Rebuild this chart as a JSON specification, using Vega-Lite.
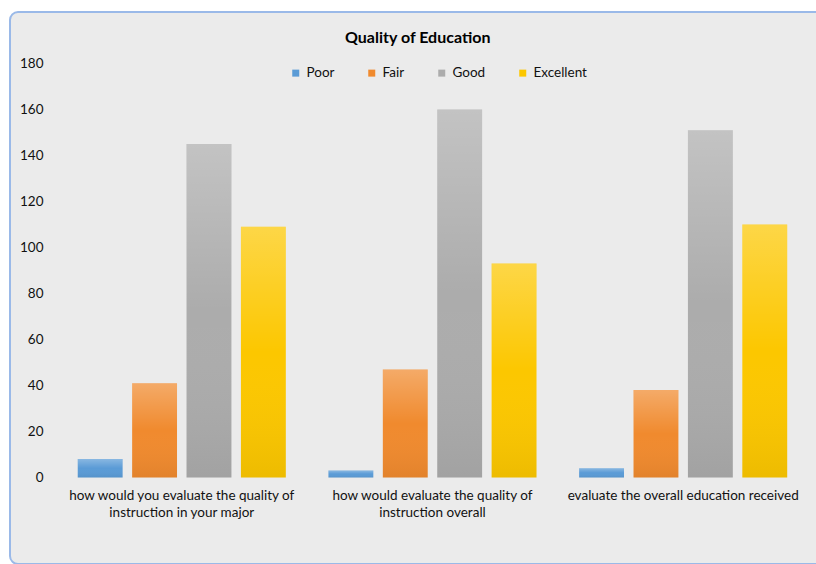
{
  "$schema": "https://vega.github.io/schema/vega-lite/v6.json",
  "autosize": "none",
  "width": 814,
  "height": 552,
  "padding": {"left": 10, "top": 12, "right": 0, "bottom": 0},
  "background": "#ffffff",
  "title": {
    "text": "Quality of Education",
    "anchor": "start",
    "frame": "group",
    "offset": -34,
    "dx": 335,
    "font": "Lato",
    "fontSize": 16,
    "fontWeight": "bold",
    "color": "#000000"
  },
  "data": {
    "values": [
      {"question": "how would you evaluate the quality of instruction in your major", "rating": "Poor", "count": 8},
      {"question": "how would you evaluate the quality of instruction in your major", "rating": "Fair", "count": 41},
      {"question": "how would you evaluate the quality of instruction in your major", "rating": "Good", "count": 145},
      {"question": "how would you evaluate the quality of instruction in your major", "rating": "Excellent", "count": 109},
      {"question": "how would evaluate the quality of instruction overall", "rating": "Poor", "count": 3},
      {"question": "how would evaluate the quality of instruction overall", "rating": "Fair", "count": 47},
      {"question": "how would evaluate the quality of instruction overall", "rating": "Good", "count": 160},
      {"question": "how would evaluate the quality of instruction overall", "rating": "Excellent", "count": 93},
      {"question": "evaluate the overall education received", "rating": "Poor", "count": 4},
      {"question": "evaluate the overall education received", "rating": "Fair", "count": 38},
      {"question": "evaluate the overall education received", "rating": "Good", "count": 151},
      {"question": "evaluate the overall education received", "rating": "Excellent", "count": 110}
    ]
  },
  "encoding": {
    "x": {
      "field": "question",
      "type": "nominal",
      "sort": null,
      "scale": {"paddingInner": 0.17, "paddingOuter": 0.2085, "align": 0.648},
      "axis": {
        "title": null,
        "orient": "bottom",
        "offset": -76,
        "domain": false,
        "ticks": false,
        "labelPadding": 0,
        "labelAngle": 0,
        "labelBaseline": "top",
        "labelFont": "Lato",
        "labelFontSize": 13.5,
        "labelColor": "#111111",
        "labelLineHeight": 17,
        "labelLimit": 400,
        "labelExpr": "split(replace(datum.label, ' instruction', '|instruction'), '|')"
      }
    },
    "xOffset": {
      "field": "rating",
      "type": "nominal",
      "sort": ["Poor", "Fair", "Good", "Excellent"],
      "scale": {"paddingInner": 0.175, "paddingOuter": 0}
    },
    "y": {
      "field": "count",
      "type": "quantitative",
      "scale": {"domain": [-37.61, 202.39], "nice": false, "zero": false},
      "axis": {
        "title": null,
        "values": [0, 20, 40, 60, 80, 100, 120, 140, 160, 180],
        "offset": -33,
        "domain": false,
        "ticks": false,
        "grid": false,
        "labelPadding": 0,
        "labelFont": "Lato",
        "labelFontSize": 13.5,
        "labelColor": "#111111"
      }
    },
    "y2": {"datum": 0}
  },
  "layer": [
    {
      "mark": {"type": "bar"},
      "encoding": {
        "color": {
          "field": "rating",
          "type": "nominal",
          "sort": ["Poor", "Fair", "Good", "Excellent"],
          "scale": {
            "domain": ["Poor", "Fair", "Good", "Excellent"],
            "range": ["#5a9bd6", "#f08a2e", "#acacac", "#fcc700"]
          },
          "legend": {
            "title": null,
            "orient": "none",
            "legendX": 279,
            "legendY": 54,
            "direction": "horizontal",
            "symbolType": "square",
            "symbolSize": 49,
            "symbolStrokeWidth": 0,
            "labelFont": "Lato",
            "labelFontSize": 13.5,
            "labelColor": "#111111",
            "labelOffset": 4,
            "columnPadding": 30
          }
        }
      }
    },
    {
      "mark": {
        "type": "bar",
        "color": {
          "gradient": "linear",
          "x1": 0, "y1": 0, "x2": 0, "y2": 1,
          "stops": [
            {"offset": 0, "color": "rgba(255,255,255,0.28)"},
            {"offset": 0.5, "color": "rgba(255,255,255,0)"},
            {"offset": 1, "color": "rgba(0,0,0,0.06)"}
          ]
        }
      },
      "encoding": {}
    }
  ],
  "config": {
    "font": "Lato",
    "view": {"fill": "#ebebeb", "stroke": "#9ab9e8", "strokeWidth": 2, "cornerRadius": 8}
  }
}
